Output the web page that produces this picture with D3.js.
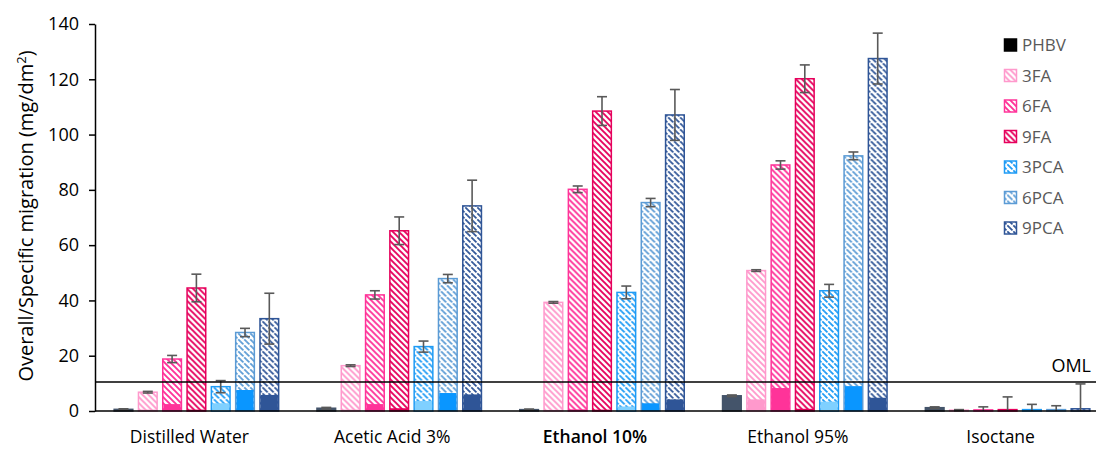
<!DOCTYPE html>
<html>
<head>
<meta charset="utf-8">
<script src="https://cdn.jsdelivr.net/npm/d3@7"></script>
<style>
  body { margin: 0; background: #fff; }
  text { font-family: "Open Sans", sans-serif; }
</style>
</head>
<body>
<svg id="chart" width="1096" height="450"></svg>
<script>
// Chart data
const categories = ["Distilled Water", "Acetic Acid 3%", "Ethanol 10%", "Ethanol 95%", "Isoctane"];
const seriesNames = ["PHBV", "3FA", "6FA", "9FA", "3PCA", "6PCA", "9PCA"];

// Overall migration per series (one value per category)
const phbvValues = [0.6, 1.0, 0.5, 5.5, 1.2];
const fa3Values = [6.8, 16.4, 39.3, 50.8, 0.3];
const fa6Values = [18.8, 42.0, 80.2, 89.0, 0.4];
const fa9Values = [44.5, 65.2, 108.5, 120.2, 0.5];
const pca3Values = [8.8, 23.3, 42.9, 43.5, 0.5];
const pca6Values = [28.4, 47.9, 75.4, 92.3, 0.5];
const pca9Values = [33.4, 74.2, 107.1, 127.5, 0.8];

// Error (standard deviation)
const phbvErrors = [0.2, 0.3, 0.2, 0.3, 0.3];
const fa3Errors = [0.3, 0.3, 0.3, 0.3, 0.2];
const fa6Errors = [1.3, 1.5, 1.2, 1.5, 1.1];
const fa9Errors = [5.0, 5.0, 5.2, 5.0, 4.6];
const pca3Errors = [2.2, 2.0, 2.3, 2.3, 1.9];
const pca6Errors = [1.5, 1.5, 1.5, 1.4, 1.4];
const pca9Errors = [9.2, 9.3, 9.2, 9.2, 9.0];

// Specific migration (solid part)
const phbvSpecific = [0, 0, 0, 0, 0];
const fa3Specific = [0.5, 0.5, 0.4, 4.2, 0];
const fa6Specific = [2.5, 2.5, 0.6, 8.3, 0];
const fa9Specific = [0.5, 1.0, 0.5, 0.8, 0];
const pca3Specific = [2.8, 3.6, 1.6, 3.4, 0];
const pca6Specific = [7.6, 6.5, 2.8, 9.0, 0];
const pca9Specific = [5.8, 6.0, 4.2, 4.8, 0];

const yTicks = [0, 20, 40, 60, 80, 100, 120, 140];
const omlValue = 10.5;

const overallBySeries = [phbvValues, fa3Values, fa6Values, fa9Values, pca3Values, pca6Values, pca9Values];
const errorBySeries = [phbvErrors, fa3Errors, fa6Errors, fa9Errors, pca3Errors, pca6Errors, pca9Errors];
const specificBySeries = [phbvSpecific, fa3Specific, fa6Specific, fa9Specific, pca3Specific, pca6Specific, pca9Specific];

// Colours: outline / hatch colour and solid (specific) colour
const lineColors = ["#44546A", "#FF99CC", "#FF3399", "#E6005C", "#1E9BF5", "#5B9BD5", "#2F5597"];
const solidColors = ["#44546A", "#FF99CC", "#FF3399", "#E6005C", "#7FD0FF", "#0A96FF", "#2F5597"];

const svg = d3.select("#chart");

// Create Scales
const y = d3.scaleLinear().domain([0, 140]).range([411, 24]);
const x0 = d3.scaleBand().domain(categories).range([95, 1109]);
const x1 = d3.scaleBand().domain(seriesNames).range([-83, 83]).paddingInner(0.17);

// Hatch patterns
const defs = svg.append("defs");
seriesNames.forEach((s, i) => {
  if (i === 0) return;
  const p = defs
    .append("pattern")
    .attr("id", "hatch-" + s)
    .attr("patternUnits", "userSpaceOnUse")
    .attr("width", 6)
    .attr("height", 6);
  p.append("rect").attr("width", 6).attr("height", 6).attr("fill", "#fff");
  p.append("path")
    .attr("d", "M0,0 L6,6 M-1,5 L1,7 M5,-1 L7,1")
    .attr("stroke", lineColors[i])
    .attr("stroke-width", i >= 4 ? 1.7 : 1.9)
    .attr("stroke-dasharray", i >= 4 ? "3.5,1.2" : null);
});

// Build flat data
const barData = [];
categories.forEach((c, ci) => {
  seriesNames.forEach((s, si) => {
    barData.push({
      cat: c,
      series: s,
      si: si,
      value: overallBySeries[si][ci],
      err: errorBySeries[si][ci],
      specific: specificBySeries[si][ci],
    });
  });
});

const bw = x1.bandwidth();

// Draw hatched (overall) bars
const groups = svg
  .selectAll("g.bar")
  .data(barData)
  .enter()
  .append("g")
  .classed("bar", true)
  .attr("transform", (d) => `translate(${x0(d.cat) + x0.bandwidth() / 2 + x1(d.series)},0)`);

groups
  .append("rect")
  .attr("x", 0.75)
  .attr("width", bw - 1.5)
  .attr("y", (d) => y(d.value))
  .attr("height", (d) => y(0) - y(d.value))
  .attr("fill", (d) => (d.si === 0 ? solidColors[0] : `url(#hatch-${d.series})`))
  .attr("stroke", (d) => lineColors[d.si])
  .attr("stroke-width", 1.5);

// Draw solid (specific) part
groups
  .filter((d) => d.specific > 0)
  .append("rect")
  .attr("x", 1.5)
  .attr("width", bw - 3)
  .attr("y", (d) => y(d.specific))
  .attr("height", (d) => y(0) - y(d.specific))
  .attr("fill", (d) => solidColors[d.si]);

// Error bars
const errGroups = groups.append("g").attr("stroke", "#595959").attr("stroke-width", 1.6);
errGroups
  .append("line")
  .attr("x1", bw / 2)
  .attr("x2", bw / 2)
  .attr("y1", (d) => y(d.value + d.err))
  .attr("y2", (d) => y(Math.max(0, d.value - d.err)));
errGroups
  .append("line")
  .attr("x1", bw / 2 - 5)
  .attr("x2", bw / 2 + 5)
  .attr("y1", (d) => y(d.value + d.err))
  .attr("y2", (d) => y(d.value + d.err));
errGroups
  .filter((d) => d.value - d.err > 0)
  .append("line")
  .attr("x1", bw / 2 - 5)
  .attr("x2", bw / 2 + 5)
  .attr("y1", (d) => y(d.value - d.err))
  .attr("y2", (d) => y(d.value - d.err));

// Y Axis
const yAxis = svg
  .append("g")
  .attr("transform", "translate(95,0)")
  .call(d3.axisLeft(y).tickValues(yTicks).tickSize(6).tickSizeOuter(0).tickPadding(10));
yAxis.select(".domain").attr("stroke", "#000").attr("stroke-width", 1.5);
yAxis.selectAll(".tick line").attr("stroke", "#000").attr("stroke-width", 1.5);
yAxis
  .selectAll(".tick text")
  .attr("fill", "#000")
  .style("font-family", "'Open Sans', sans-serif")
  .style("font-size", "18px");

// Baseline
svg
  .append("line")
  .attr("x1", 95)
  .attr("x2", 1096)
  .attr("y1", y(0))
  .attr("y2", y(0))
  .attr("stroke", "#000")
  .attr("stroke-width", 1.5);

// OML line
svg
  .append("line")
  .attr("x1", 95)
  .attr("x2", 1096)
  .attr("y1", y(omlValue))
  .attr("y2", y(omlValue))
  .attr("stroke", "#000")
  .attr("stroke-width", 1.5);
svg
  .append("text")
  .attr("x", 1091)
  .attr("y", y(omlValue) - 10)
  .attr("text-anchor", "end")
  .style("font-size", "18px")
  .attr("fill", "#000")
  .text("OML");

// Category labels
svg
  .selectAll("text.cat")
  .data(categories)
  .enter()
  .append("text")
  .classed("cat", true)
  .attr("x", (d) => x0(d) + x0.bandwidth() / 2 - 7)
  .attr("y", 443)
  .attr("text-anchor", "middle")
  .style("font-size", "17.5px")
  .style("font-weight", (d) => (d === "Ethanol 10%" ? 600 : 400))
  .attr("fill", "#000")
  .text((d) => d);

// Y title
const yTitle = svg
  .append("text")
  .attr("transform", "translate(33,216) rotate(-90)")
  .attr("text-anchor", "middle")
  .style("font-size", "20px")
  .attr("fill", "#000");
yTitle.append("tspan").text("Overall/Specific migration (mg/dm");
yTitle.append("tspan").attr("dy", -7).style("font-size", "13px").text("2");
yTitle.append("tspan").attr("dy", 7).text(")");

// Legend
const legend = svg
  .selectAll("g.legend")
  .data(seriesNames)
  .enter()
  .append("g")
  .classed("legend", true)
  .attr("transform", (_, i) => `translate(1004,${45 + i * 30.5})`);
legend
  .append("rect")
  .attr("x", 0.5)
  .attr("y", -6)
  .attr("width", 12)
  .attr("height", 12)
  .attr("fill", (d, i) => (i === 0 ? "#000" : `url(#hatch-${d})`))
  .attr("stroke", (_, i) => (i === 0 ? "#000" : lineColors[i]))
  .attr("stroke-width", 1.5);
legend
  .append("text")
  .attr("x", 18)
  .attr("y", 6)
  .style("font-size", "17px")
  .attr("fill", "#595959")
  .text((d) => d);
</script>
</body>
</html>
